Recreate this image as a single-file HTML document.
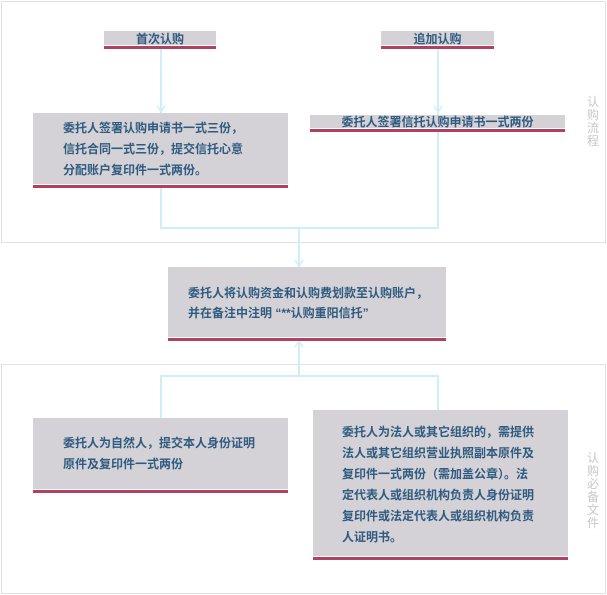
<!DOCTYPE html>
<html><head><meta charset="utf-8"><style>
body{margin:0;width:607px;height:595px;background:#fff;position:relative;font-family:"Liberation Sans","Noto Sans CJK SC",sans-serif;overflow:hidden}
.p{position:absolute;border:1px solid #e2e2e2;box-sizing:border-box}
.b{position:absolute;background:#d4d2d6;border-bottom:3px solid #b2405f;box-shadow:0 -1px 0 #fff inset;color:#2f5b80;font-size:12px;font-weight:bold;box-sizing:border-box;line-height:21px}
.l{position:absolute;background:#cdeffc}
.s{position:absolute;color:#c8c8c8;font-size:12px;width:14px;line-height:13px;text-align:center}
</style></head><body>
<div class="p" style="left:1px;top:1px;width:605px;height:242px"></div>
<div class="p" style="left:1px;top:364px;width:605px;height:230px"></div>
<div class="s" style="left:586px;top:96px">认购流程</div>
<div class="s" style="left:586px;top:452px">认购必备文件</div>

<div class="l" style="left:160px;top:49px;width:2px;height:180px"></div>
<div class="l" style="left:437px;top:49px;width:2px;height:180px"></div>
<div class="l" style="left:160px;top:227px;width:279px;height:2px"></div>
<div class="l" style="left:298px;top:227px;width:2px;height:40px"></div>
<div class="l" style="left:298px;top:340px;width:2px;height:37px"></div>
<div class="l" style="left:160px;top:375px;width:279px;height:2px"></div>
<div class="l" style="left:160px;top:375px;width:2px;height:43px"></div>
<div class="l" style="left:437px;top:375px;width:2px;height:35px"></div>
<svg style="position:absolute;left:0;top:0" width="607" height="595"><g stroke="#cdeffc" stroke-width="1.5" fill="none">
<path d="M157 106 L161 112 L165 106"/><path d="M434 106 L438 112 L442 106"/><path d="M295 260 L299 266 L303 260"/><path d="M295 347 L299 341 L303 347"/></g></svg>

<div class="b" style="left:104px;top:31px;width:112px;height:18px;text-align:center;line-height:16px">首次认购</div>
<div class="b" style="left:381px;top:31px;width:113px;height:18px;text-align:center;line-height:16px">追加认购</div>
<div class="b" style="left:33px;top:113px;width:255px;height:75px;padding:5px 0 0 30px">委托人签署认购申请书一式三份，<br>信托合同一式三份，提交信托心意<br>分配账户复印件一式两份。</div>
<div class="b" style="left:310px;top:115px;width:255px;height:17px;text-align:center;line-height:15px">委托人签署信托认购申请书一式两份</div>
<div class="b" style="left:168px;top:267px;width:278px;height:74px;padding:16px 0 0 20px;line-height:20px">委托人将认购资金和认购费划款至认购账户，<br>并在备注中注明 “**认购重阳信托”</div>
<div class="b" style="left:33px;top:418px;width:255px;height:75px;padding:15px 0 0 30px;line-height:21px">委托人为自然人，提交本人身份证明<br>原件及复印件一式两份</div>
<div class="b" style="left:313px;top:410px;width:255px;height:150px;padding:12px 0 0 29px;line-height:21px">委托人为法人或其它组织的，需提供<br>法人或其它组织营业执照副本原件及<br>复印件一式两份（需加盖公章）。法<br>定代表人或组织机构负责人身份证明<br>复印件或法定代表人或组织机构负责<br>人证明书。</div>
</body></html>
